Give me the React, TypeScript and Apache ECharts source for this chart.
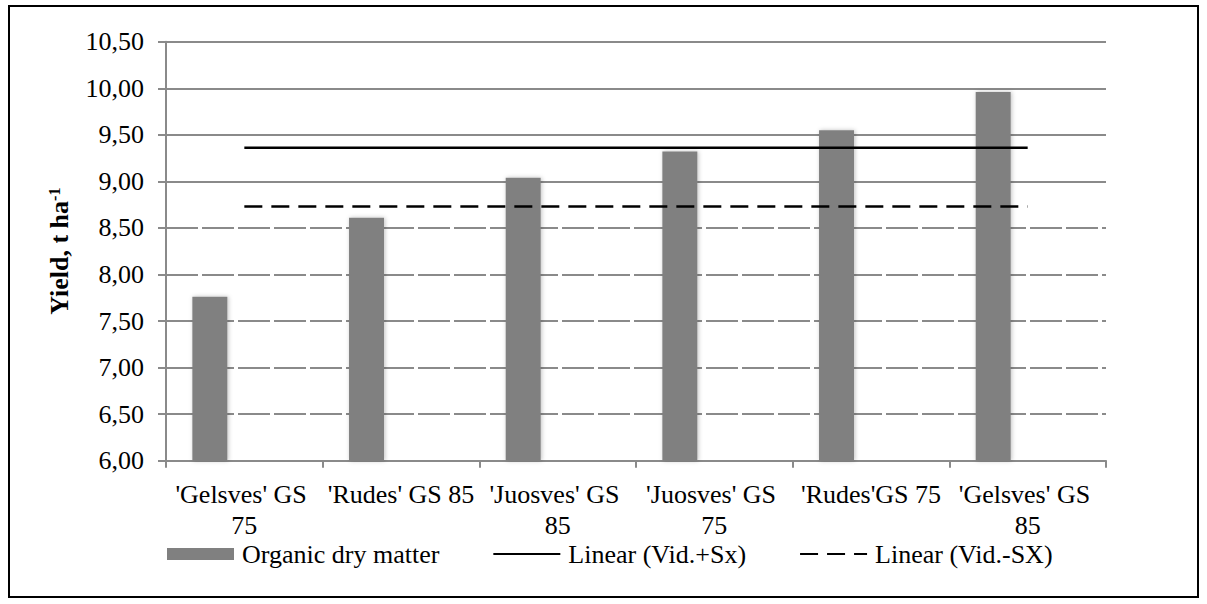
import React, { useEffect, useRef } from "react";
import * as echarts from "echarts";

const categories = [
  "'Gelsves' GS 75",
  "'Rudes' GS 85",
  "'Juosves' GS 85",
  "'Juosves' GS 75",
  "'Rudes'GS 75",
  "'Gelsves' GS 85",
];
const organicDryMatter = [7.76, 8.61, 9.04, 9.32, 9.55, 9.96];
const linearPlus = [9.36, 9.36, 9.36, 9.36, 9.36, 9.36];
const linearMinus = [8.73, 8.73, 8.73, 8.73, 8.73, 8.73];
const yTicks = [6.5, 7, 7.5, 8, 8.5, 9, 9.5, 10, 10.5];
const solidGridFrom = 9;

const FONT = "'Liberation Serif', 'Times New Roman', serif";
const GREY = "#8a8a8a";
const HIDDEN_SYMBOL = { color: "rgba(0,0,0,0)", borderColor: "rgba(0,0,0,0)", borderWidth: 0, opacity: 0 };

export default function App() {
  const ref = useRef<HTMLDivElement>(null);
  useEffect(() => {
    document.body.style.margin = "0";
    if (!ref.current) return;
    const chart = echarts.init(ref.current, null, { renderer: "svg" });
    chart.setOption({
      animation: false,
      backgroundColor: "#fff",
      textStyle: { fontFamily: FONT },
      grid: { left: 166, right: 101, top: 41.7, bottom: 143.3, containLabel: false, outerBoundsMode: "none" },
      graphic: [
        {
          type: "rect",
          shape: { x: 9, y: 6, width: 1189, height: 591 },
          style: { fill: "none", stroke: "#000", lineWidth: 2 },
          silent: true,
        },
      ],
      legend: {
        left: 167,
        top: 541,
        padding: 0,
        itemGap: 53,
        itemWidth: 67,
        itemHeight: 12,
        textStyle: { fontSize: 26, color: "#000", fontFamily: FONT, padding: [0, 0, 0, 3] },
        data: [
          { name: "Organic dry matter", icon: "rect" },
          { name: "Linear (Vid.+Sx)", itemStyle: HIDDEN_SYMBOL },
          { name: "Linear (Vid.-SX)", itemStyle: HIDDEN_SYMBOL },
        ],
      },
      xAxis: {
        type: "category",
        data: categories,
        boundaryGap: true,
        axisLine: { show: true, lineStyle: { color: GREY, width: 2 } },
        axisTick: { show: true, length: 7, lineStyle: { color: GREY, width: 2 } },
        axisLabel: {
          interval: 0,
          fontSize: 26,
          color: "#000",
          fontFamily: FONT,
          width: 152,
          overflow: "break",
          lineHeight: 31,
          margin: 18,
        },
        splitLine: { show: false },
      },
      yAxis: {
        type: "value",
        min: 6,
        max: 10.5,
        interval: 0.5,
        name: "{a|Yield, t ha}{b|-1}",
        nameLocation: "middle",
        nameRotate: 90,
        nameGap: 94,
        nameTextStyle: {
          rich: {
            a: { fontSize: 26, fontWeight: "bold", color: "#000", fontFamily: FONT },
            b: { fontSize: 16, fontWeight: "bold", color: "#000", fontFamily: FONT, verticalAlign: "top" },
          },
        },
        axisLine: { show: true, lineStyle: { color: GREY, width: 2 } },
        axisTick: { show: true, length: 8, lineStyle: { color: GREY, width: 2 } },
        axisLabel: {
          fontSize: 26,
          color: "#000",
          fontFamily: FONT,
          margin: 22,
          formatter: (v: number) => v.toFixed(2).replace(".", ","),
        },
        splitLine: { show: false },
      },
      series: [
        {
          name: "Organic dry matter",
          type: "bar",
          data: organicDryMatter,
          barWidth: 35,
          barGap: "97%",
          z: 3,
          itemStyle: {
            color: "#808080",
            shadowBlur: 4,
            shadowColor: "rgba(0,0,0,0.25)",
            shadowOffsetX: 1,
            shadowOffsetY: 0,
          },
        },
        {
          name: "_spacer",
          type: "bar",
          data: categories.map(() => "-"),
          barWidth: 35,
          silent: true,
          markLine: {
            silent: true,
            z: 1,
            symbol: "none",
            label: { show: false },
            data: yTicks.map((t) => ({
              yAxis: t,
              lineStyle: {
                color: GREY,
                width: 2,
                type: t >= solidGridFrom ? "solid" : [32, 4],
              },
            })),
          },
        },
        {
          name: "Linear (Vid.+Sx)",
          type: "line",
          data: linearPlus,
          symbol: "none",
          z: 4,
          lineStyle: { color: "#000", width: 2.5, type: "solid" },
          itemStyle: { color: "#000" },
        },
        {
          name: "Linear (Vid.-SX)",
          type: "line",
          data: linearMinus,
          symbol: "none",
          z: 4,
          lineStyle: { color: "#000", width: 2.5, type: [18, 9] },
          itemStyle: { color: "#000" },
        },
      ],
    });
    return () => chart.dispose();
  }, []);
  return <div ref={ref} style={{ width: 1207, height: 604 }} />;
}
